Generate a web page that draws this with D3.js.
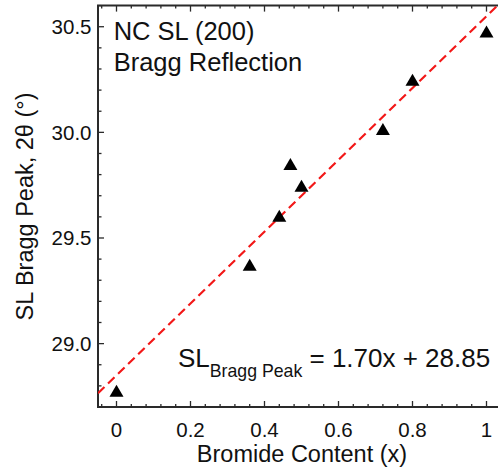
<!DOCTYPE html>
<html>
<head>
<meta charset="utf-8">
<script src="https://cdn.jsdelivr.net/npm/d3@7"></script>
<style>
  html, body { margin: 0; padding: 0; background: #fff; }
  svg { display: block; }
  text { font-family: "Liberation Sans", Arial, sans-serif; fill: #111; }
</style>
</head>
<body>
<div id="chart"></div>
<script>
// ---- data ----
const bromide = [0, 0.36, 0.44, 0.47, 0.50, 0.72, 0.80, 1.00];
const braggPeak = [28.776, 29.372, 29.604, 29.849, 29.746, 30.015, 30.248, 30.476];
const fitSlope = 1.70;
const fitIntercept = 28.85;
const xTickValues = [0, 0.2, 0.4, 0.6, 0.8, 1];
const xTickLabels = ["0", "0.2", "0.4", "0.6", "0.8", "1"];
const yTickValues = [29.0, 29.5, 30.0, 30.5];
const yTickLabels = ["29.0", "29.5", "30.0", "30.5"];
const xMinorStep = 0.04;
const yMinorStep = 0.1;

(function () {
const W = 498, H = 469;
const pL = 98, pR = 501.3, pT = 5.6, pB = 407;

const svg = d3.select("#chart").append("svg").attr("width", W).attr("height", H);

const x = d3.scaleLinear().domain([-0.05, 1.04]).range([pL, pR]);
const y = d3.scaleLinear().domain([28.7, 30.6]).range([pB, pT]);

svg.append("clipPath").attr("id", "clip").append("rect")
  .attr("x", pL).attr("y", pT).attr("width", pR - pL).attr("height", pB - pT);

const axisColor = "#2a2a2a";
const isMajorX = d => xTickValues.some(t => Math.abs(t - d) < 1e-6);
const isMajorY = d => yTickValues.some(t => Math.abs(t - d) < 1e-6);

const xMinor = d3.range(-0.04, 1.05, xMinorStep).filter(v => x(v) >= pL && x(v) <= pR);
const yMinor = d3.range(28.7, 30.61, yMinorStep).filter(v => y(v) <= pB + 0.1 && y(v) >= pT - 0.1);

const g = svg.append("g");
g.selectAll("line.xb").data(xMinor).join("line").attr("class", "xb")
  .attr("x1", d => x(d)).attr("x2", d => x(d))
  .attr("y1", pB).attr("y2", d => pB - (isMajorX(d) ? 6 : 3))
  .attr("stroke", axisColor).attr("stroke-width", 1.3);
g.selectAll("line.xt").data(xMinor).join("line").attr("class", "xt")
  .attr("x1", d => x(d)).attr("x2", d => x(d))
  .attr("y1", pT).attr("y2", d => pT + (isMajorX(d) ? 6 : 3))
  .attr("stroke", axisColor).attr("stroke-width", 1.3);
g.selectAll("line.yl").data(yMinor).join("line").attr("class", "yl")
  .attr("y1", d => y(d)).attr("y2", d => y(d))
  .attr("x1", pL).attr("x2", d => pL + (isMajorY(d) ? 6 : 3.5))
  .attr("stroke", axisColor).attr("stroke-width", 1.3);

svg.append("path")
  .attr("d", `M${pR},${pT}H${pL}V${pB}H${pR}`)
  .attr("fill", "none").attr("stroke", axisColor).attr("stroke-width", 2);

svg.selectAll("text.xl").data(xTickValues).join("text").attr("class", "xl")
  .attr("x", d => x(d)).attr("y", pB + 30)
  .attr("text-anchor", "middle").attr("font-size", 20.5)
  .text((d, i) => xTickLabels[i]);
svg.selectAll("text.ylab").data(yTickValues).join("text").attr("class", "ylab")
  .attr("x", pL - 6.5).attr("y", d => y(d)).attr("dy", "0.36em")
  .attr("text-anchor", "end").attr("font-size", 20.5)
  .text((d, i) => yTickLabels[i]);

svg.append("text").attr("x", 302).attr("y", 462.3)
  .attr("text-anchor", "middle").attr("font-size", 23.5)
  .text("Bromide Content (x)");
svg.append("text")
  .attr("transform", `translate(32.5,206.5) rotate(-90)`)
  .attr("text-anchor", "middle").attr("font-size", 23.5)
  .text("SL Bragg Peak, 2θ (°)");

const fx = [-0.05, 1.04];
svg.append("line")
  .attr("clip-path", "url(#clip)")
  .attr("x1", x(fx[0])).attr("y1", y(fitIntercept + fitSlope * fx[0]))
  .attr("x2", x(fx[1])).attr("y2", y(fitIntercept + fitSlope * fx[1]))
  .attr("stroke", "#f21818").attr("stroke-width", 2.2)
  .attr("stroke-dasharray", "9,5");

const pts = bromide.map((b, i) => ({ x: b, y: braggPeak[i] }));
svg.selectAll("path.pt").data(pts).join("path").attr("class", "pt")
  .attr("transform", d => `translate(${x(d.x)},${y(d.y)})`)
  .attr("d", "M0,-6.2L7,5.8L-7,5.8Z")
  .attr("fill", "#000");

svg.append("text").attr("x", 113.7).attr("y", 40).attr("font-size", 25.5).text("NC SL (200)");
svg.append("text").attr("x", 113.7).attr("y", 71).attr("font-size", 25.5).text("Bragg Reflection");

const eq = svg.append("text").attr("x", 178).attr("y", 367).attr("font-size", 26);
eq.append("tspan").text("SL");
eq.append("tspan").attr("font-size", 17.7).attr("dy", 10).text("Bragg Peak");
eq.append("tspan").attr("dy", -10).text(" = 1.70x + 28.85");
})();
</script>
</body>
</html>
